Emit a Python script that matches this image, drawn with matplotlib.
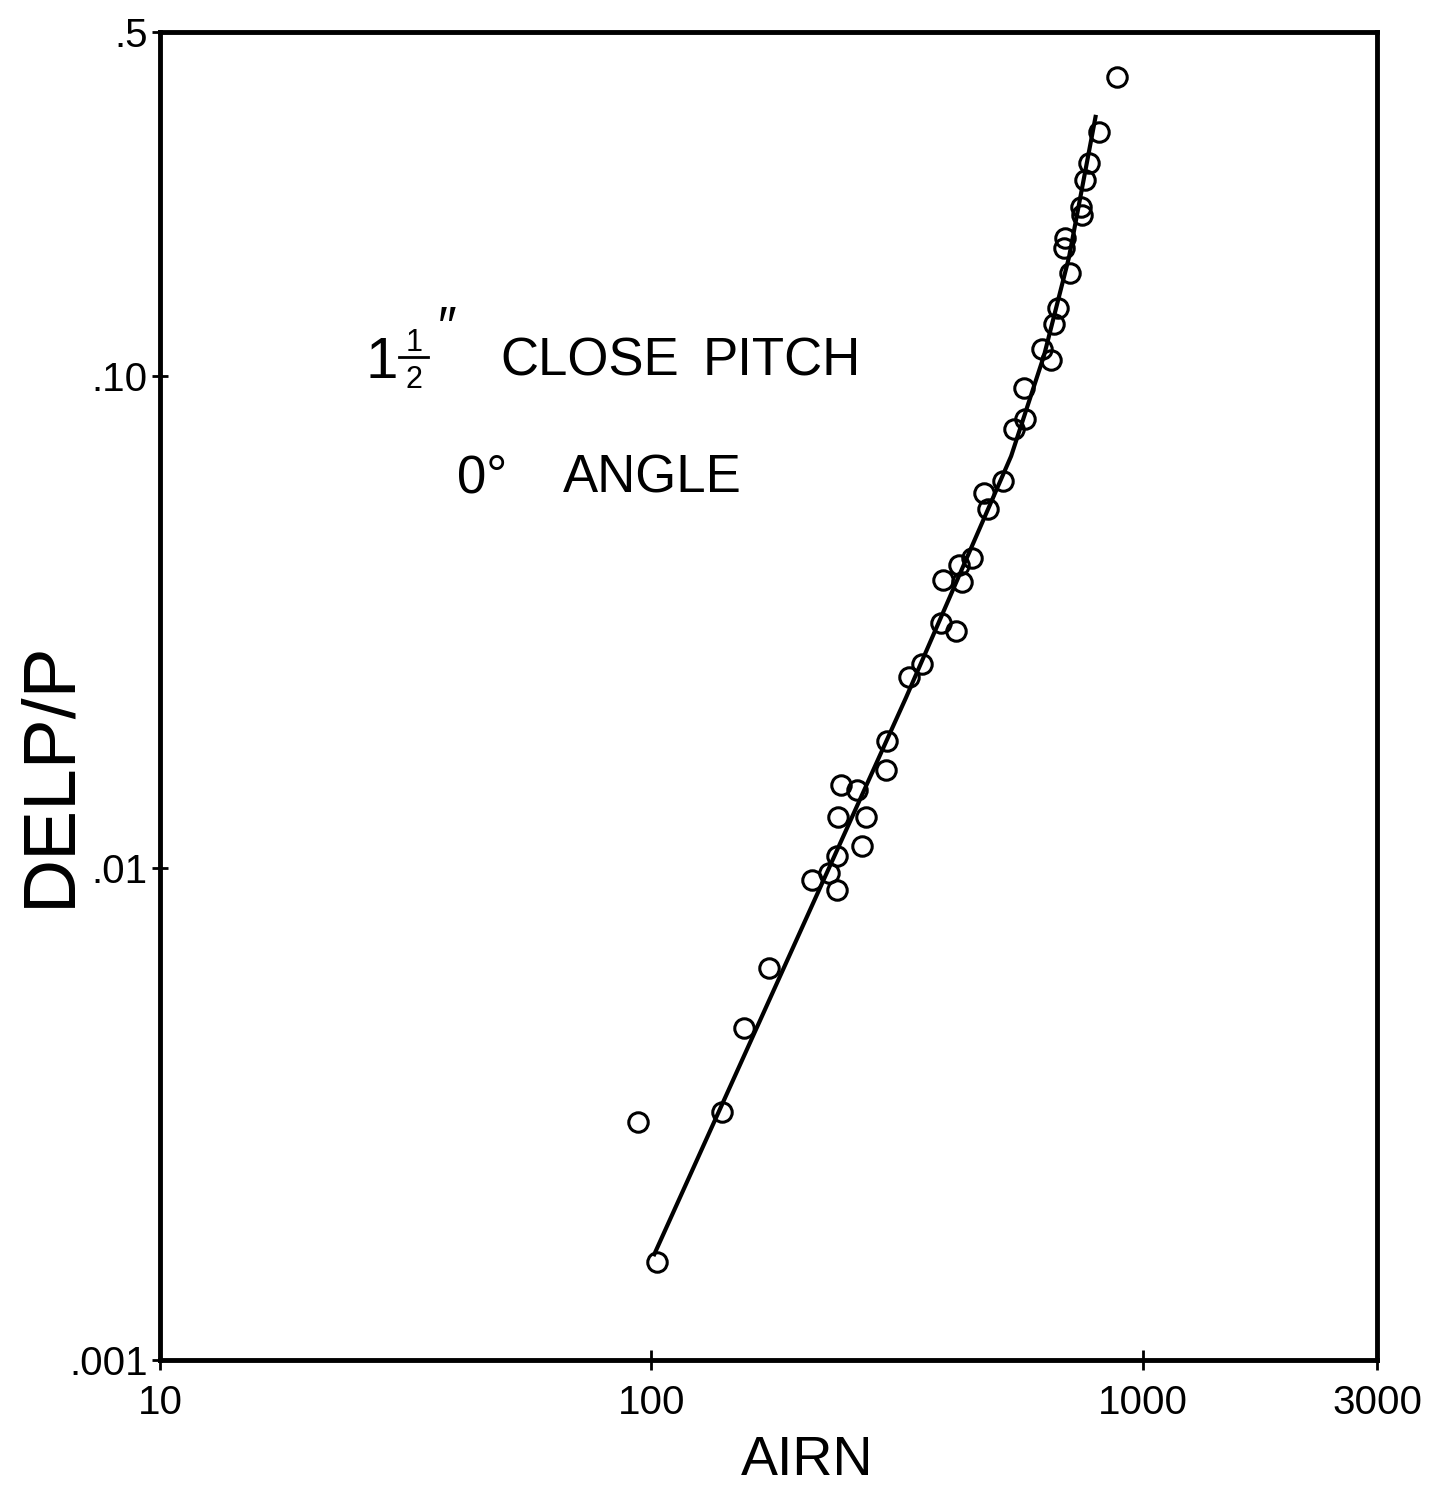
import numpy as np
import matplotlib.pyplot as plt

# hand-plotted data read from the sheet
airn = [94.1, 102.8, 139.4, 154.5, 173.7, 212.4, 230.0, 238.8, 238.8, 268.5,
        239.9, 273.5, 262.2, 243.4, 300.4, 301.8, 334.5, 355.5, 416.9, 388.6,
        428.7, 392.3, 422.7, 449.2, 484.2, 475.1, 519.4, 546.9, 575.9, 573.1,
        650.3, 623.4, 659.5, 671.9, 710.6, 691.0, 694.3, 751.6, 748.2, 762.4,
        776.8, 813.9, 885.6]
delp = [0.00305, 0.00158, 0.00319, 0.00472, 0.00625, 0.00945, 0.00977, 0.00902,
        0.01058, 0.01109, 0.01271, 0.01271, 0.01443, 0.01477, 0.01578, 0.01808,
        0.02442, 0.02596, 0.03031, 0.03148, 0.03816, 0.03852, 0.04133, 0.04271,
        0.05354, 0.05769, 0.06105, 0.0779, 0.0817, 0.0945, 0.1078, 0.1135,
        0.1277, 0.1377, 0.1615, 0.1816, 0.1904, 0.2121, 0.2203, 0.2500,
        0.2708, 0.3131, 0.4057]

# faired curve
fit_x = [101.4, 230, 330, 540, 630, 708, 802]
fit_y = [0.00164, 0.0100, 0.0222, 0.0687, 0.110, 0.174, 0.336]

xticks = [10, 100, 1000, 3000]
xticklabels = ['10', '100', '1000', '3000']
yticks = [0.001, 0.01, 0.1, 0.5]
yticklabels = ['.001', '.01', '.10', '.5']

plt.rcParams['font.family'] = ['Liberation Sans', 'DejaVu Sans']

fig = plt.figure(figsize=(14.55, 14.93), dpi=100)
ax = fig.add_axes([0.110, 0.0891, 0.8364, 0.8895])

ax.plot(fit_x, fit_y, color='black', lw=3)
ax.plot(airn, delp, 'o', ms=14, mfc='none', mec='black', mew=2.2)

ax.set_xscale('log')
ax.set_yscale('log')
ax.set_xlim(10, 3000)
ax.set_ylim(0.001, 0.5)
ax.minorticks_off()
ax.set_xticks(xticks)
ax.set_xticklabels(xticklabels, fontsize=29)
ax.set_yticks(yticks)
ax.set_yticklabels(yticklabels, fontsize=29)
ax.tick_params(axis='x', direction='inout', length=14, width=2, pad=10)
ax.tick_params(axis='y', direction='inout', length=12, width=2, pad=3)
for s in ax.spines.values():
    s.set_linewidth(3.5)

fig.text(0.5546, 0.012, 'AIRN', fontsize=40, ha='center', va='baseline')
fig.text(0.034, 0.482, 'DELP/P', fontsize=54, rotation=90, ha='center', va='center')

# title lettering
fig.text(0.2510, 0.7468, '1', fontsize=42)
fig.text(0.2845, 0.7649, '1', fontsize=22, ha='center')
fig.text(0.2845, 0.7401, '2', fontsize=22, ha='center')
fig.add_artist(plt.Line2D([0.2745, 0.2945], [0.7609, 0.7609], color='black', lw=2))
fig.text(0.3075, 0.7957, '\u2033', fontsize=38, ha='center', va='top')
fig.text(0.3436, 0.7488, 'CLOSE', fontsize=38)
fig.text(0.4832, 0.7488, 'PITCH', fontsize=38)
fig.text(0.3141, 0.6698, '0\u00b0', fontsize=38)
fig.text(0.3869, 0.6698, 'ANGLE', fontsize=38)

fig.savefig('out.png', dpi=100, facecolor='white')
